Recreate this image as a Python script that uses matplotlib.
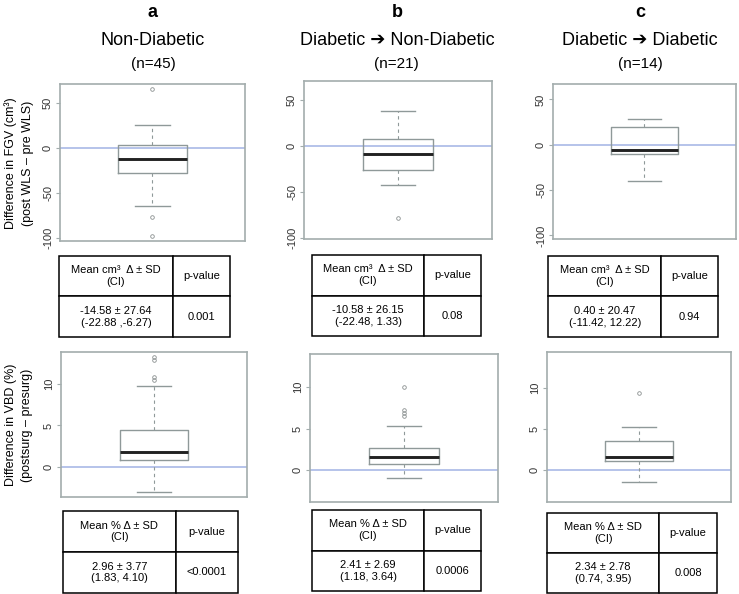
import matplotlib
matplotlib.use('Agg')
import matplotlib.pyplot as plt

plt.rcParams['font.family'] = ['Liberation Sans', 'DejaVu Sans']

# Datos de cada grupo
letras = ['a', 'b', 'c']
grupos = ['Non-Diabetic', 'Diabetic ➔ Non-Diabetic', 'Diabetic ➔ Diabetic']
n_txt = ['(n=45)', '(n=21)', '(n=14)']

# FGV (cm3): cajas
fgv_med = [-12.5, -9.3, -6.0]
fgv_q1 = [-27.5, -26.0, -10.0]
fgv_q3 = [3.0, 7.2, 20.0]
fgv_lo = [-64.0, -43.0, -40.0]
fgv_hi = [26.0, 38.0, 28.0]
fgv_out = [[65.0, -76.0, -97.0], [-78.5], []]

# VBD (%)
vbd_med = [1.8, 1.6, 1.6]
vbd_q1 = [0.8, 0.7, 1.1]
vbd_q3 = [4.5, 2.7, 3.6]
vbd_lo = [-3.1, -1.0, -1.4]
vbd_hi = [9.8, 5.3, 5.3]
vbd_out = [[13.3, 12.9, 10.9, 10.5], [10.0, 7.2, 6.9, 6.5], [9.4]]

# Tablas
fgv_head = 'Mean cm³  Δ ± SD\n(CI)'
fgv_mean = ['-14.58 ± 27.64\n(-22.88 ,-6.27)', '-10.58 ± 26.15\n(-22.48, 1.33)', '0.40 ± 20.47\n(-11.42, 12.22)']
fgv_p = ['0.001', '0.08', '0.94']
vbd_head = 'Mean % Δ ± SD\n(CI)'
vbd_mean = ['2.96 ± 3.77\n(1.83, 4.10)', '2.41 ± 2.69\n(1.18, 3.64)', '2.34 ± 2.78\n(0.74, 3.95)']
vbd_p = ['<0.0001', '0.0006', '0.008']

fgv_ticks = [-100, -50, 0, 50]
vbd_ticks = [0, 5, 10]

# Posiciones (fracción de figura)
pos_fgv = [[0.0812, 0.5943, 0.2503, 0.2643], [0.4114, 0.5976, 0.2544, 0.2660], [0.7483, 0.5976, 0.2476, 0.2610]]
pos_vbd = [[0.0825, 0.1633, 0.2517, 0.2441], [0.4195, 0.1549, 0.2544, 0.2492], [0.7402, 0.1549, 0.2490, 0.2525]]
lim_fgv = [(-103, 71), (-101, 70), (-104, 67)]
lim_vbd = [(-3.66, 13.9), (-3.83, 14.0), (-3.88, 14.4)]
pos_tab1 = [[0.0798, 0.4327, 0.2314, 0.1364, 0.667], [0.4222, 0.4343, 0.2287, 0.1364, 0.663], [0.7416, 0.4327, 0.2300, 0.1364, 0.667]]
pos_tab2 = [[0.0852, 0.0017, 0.2368, 0.1380, 0.644], [0.4222, 0.0050, 0.2287, 0.1364, 0.663], [0.7402, 0.0017, 0.2300, 0.1347, 0.661]]
centros = [0.207, 0.537, 0.866]

gris = '#8f9999'
marco = '#a3adad'
azul = '#a9b9e6'

fig = plt.figure(figsize=(7.39, 5.94), dpi=100)


def caja(pos, ylim, med, q1, q3, lo, hi, out, ticks):
    ax = fig.add_axes(pos)
    st = [dict(med=med, q1=q1, q3=q3, whislo=lo, whishi=hi, fliers=out)]
    ax.axhline(0, color=azul, lw=1.2, zorder=1)
    ax.bxp(st, positions=[1], widths=0.37, capwidths=0.185, manage_ticks=False,
           boxprops=dict(color=gris, lw=1.0),
           whiskerprops=dict(color=gris, lw=0.8, linestyle=(0, (3, 3))),
           capprops=dict(color=gris, lw=1.0),
           medianprops=dict(color='#222222', lw=2.1),
           flierprops=dict(marker='o', markersize=2.6, markerfacecolor='none',
                           markeredgecolor='#8a9090', markeredgewidth=0.6))
    ax.set_xlim(0.5, 1.5)
    ax.set_ylim(*ylim)
    ax.set_xticks([])
    ax.set_yticks(ticks)
    ax.set_yticklabels([str(t) for t in ticks], rotation=90, va='center', fontsize=8, color='#333333')
    ax.tick_params(axis='y', length=3, width=0.8, color=marco, pad=2)
    for s in ax.spines.values():
        s.set_color(marco)
        s.set_linewidth(1.2)
    return ax


def tabla(pos, head, val, p):
    ax = fig.add_axes(pos[:4])
    ax.axis('off')
    t = ax.table(cellText=[[head, 'p-value'], [val, p]], cellLoc='center',
                 bbox=[0, 0, 1, 1], colWidths=[pos[4], 1 - pos[4]])
    t.auto_set_font_size(False)
    t.set_fontsize(8)
    for c in t.get_celld().values():
        c.set_linewidth(1.1)
        c.set_edgecolor('black')


for i in range(3):
    fig.text(centros[i], 0.9786, letras[i], ha='center', va='center', fontsize=13, fontweight='bold')
    fig.text(centros[i], 0.9315, grupos[i], ha='center', va='center', fontsize=13)
    fig.text(centros[i], 0.893, n_txt[i], ha='center', va='center', fontsize=11)
    caja(pos_fgv[i], lim_fgv[i], fgv_med[i], fgv_q1[i], fgv_q3[i], fgv_lo[i], fgv_hi[i], fgv_out[i], fgv_ticks)
    caja(pos_vbd[i], lim_vbd[i], vbd_med[i], vbd_q1[i], vbd_q3[i], vbd_lo[i], vbd_hi[i], vbd_out[i], vbd_ticks)
    tabla(pos_tab1[i], fgv_head, fgv_mean[i], fgv_p[i])
    tabla(pos_tab2[i], vbd_head, vbd_mean[i], vbd_p[i])

# Etiquetas del eje y (solo panel a)
fig.text(0.026, 0.7256, 'Difference in FGV (cm³)\n(post WLS – pre WLS)', rotation=90,
         ha='center', va='center', fontsize=9, linespacing=1.5)
fig.text(0.026, 0.2845, 'Difference in VBD (%)\n(postsurg – presurg)', rotation=90,
         ha='center', va='center', fontsize=9, linespacing=1.5)

plt.savefig('out.png', dpi=100)
